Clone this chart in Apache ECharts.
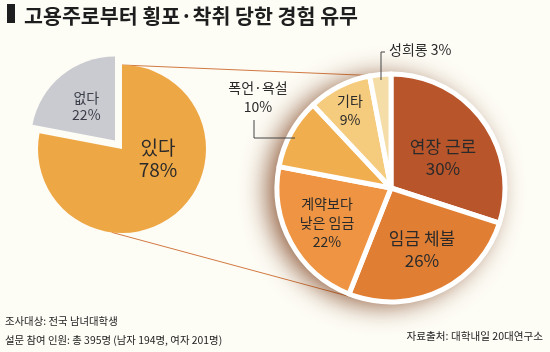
<!DOCTYPE html>
<html>
<head>
<meta charset="utf-8">
<script src="https://cdn.jsdelivr.net/npm/echarts@6/dist/echarts.min.js"></script>
<style>
html, body { margin: 0; padding: 0; background: #fdfcf5; }
#main { width: 550px; height: 352px; }
</style>
</head>
<body>
<div id="main"></div>
<script>
// 경험 유무
var hasNames = ['있다', '없다'];
var hasValues = [78, 22];

// 횡포·착취 유형 (있다 78% 내 비율)
var typeNames = ['연장 근로', '임금 체불', '계약보다\n낮은 임금', '폭언·욕설', '기타', '성희롱'];
var typeValues = [30, 26, 22, 10, 9, 3];

var hasColors = ['#eea745', '#c9cbd1'];
var typeColors = ['#b9552a', '#e07f34', '#ee9442', '#f1ae4e', '#f5cb7e', '#f5dda8'];

// 파이 중심, 반지름
var L = { x: 122, y: 149, r: 84 };
var R = { x: 391, y: 188, r: 114 };

// 라벨 위치 (중심 기준)
var hasLabelPos = [[36, 10], [-39, -48]];
var typeLabelPos = [[52, -30], [31, 62], [-64, 35], [-133, -91], [-41, -78], [-2, -138]];
var hasFont = [19, 14];
var typeFont = [17, 17, 14, 14, 14, 14];

var FONT = 'Noto Sans CJK KR';

function polar(c, r, deg) {
	var a = deg * Math.PI / 180;
	return [c.x + r * Math.sin(a), c.y - r * Math.cos(a)];
}

var myChart = echarts.init(document.getElementById('main'));

var hasData = hasNames.map(function (n, i) {
	return {
		name: n,
		value: hasValues[i],
		selected: i === 1,
		itemStyle: { color: hasColors[i] },
		label: {
			fontSize: hasFont[i],
			lineHeight: hasFont[i] + 3,
			color: i === 1 ? '#3b3d48' : '#2a2a2a'
		}
	};
});

var typeData = typeNames.map(function (n, i) {
	return {
		name: n,
		value: typeValues[i],
		itemStyle: { color: typeColors[i] },
		label: {
			fontSize: typeFont[i],
			lineHeight: typeFont[i] + 5
		}
	};
});

var option = {
	backgroundColor: '#fdfcf5',
	animation: false,
	title: [{
		text: '고용주로부터 횡포·착취 당한 경험 유무',
		left: 19,
		top: 1,
		textStyle: { fontFamily: FONT, fontSize: 20.6, fontWeight: 'bold', color: '#1e1e1e' }
	}, {
		text: '조사대상: 전국 남녀대학생\n설문 참여 인원: 총 395명 (남자 194명, 여자 201명)',
		left: 0,
		top: 307,
		textStyle: { fontFamily: FONT, fontSize: 10.4, fontWeight: 'normal', color: '#222', lineHeight: 19 }
	}, {
		text: '자료출처: 대학내일 20대연구소',
		right: 2,
		top: 326,
		textStyle: { fontFamily: FONT, fontSize: 10.6, fontWeight: 'normal', color: '#222' }
	}],
	graphic: [
		// 제목 앞 막대
		{ type: 'rect', shape: { x: 7, y: 4, width: 8, height: 19 }, style: { fill: '#1e1e1e' } },
		// 연결선
		{ type: 'line', z: 0, shape: { x1: polar(L, L.r, 0)[0], y1: polar(L, L.r, 0)[1], x2: polar(R, 112, 357)[0], y2: polar(R, 112, 357)[1] }, style: { stroke: '#d27a42', lineWidth: 1 } },
		{ type: 'line', z: 0, shape: { x1: polar(L, L.r, 187)[0], y1: polar(L, L.r, 187)[1], x2: polar(R, 116, 200)[0], y2: polar(R, 116, 200)[1] }, style: { stroke: '#d27a42', lineWidth: 1 } },
		// 라벨 지시선
		{ type: 'polyline', z: 10, shape: { points: [[R.x - 137, R.y - 68], [R.x - 137, R.y - 50], [R.x - 96, R.y - 50]] }, style: { stroke: '#444', lineWidth: 1, fill: null } },
		{ type: 'polyline', z: 10, shape: { points: [[R.x - 6, R.y - 136], [R.x - 10, R.y - 136], [R.x - 10, R.y - 108]] }, style: { stroke: '#444', lineWidth: 1, fill: null } }
	],
	series: [{
		name: '경험 유무',
		type: 'pie',
		center: [L.x, L.y],
		radius: L.r,
		startAngle: 90,
		clockwise: true,
		selectedMode: 'single',
		selectedOffset: 11,
		avoidLabelOverlap: false,
		silent: true,
		z: 2,
		label: {
			position: 'inside',
			fontFamily: FONT,
			formatter: '{b}\n{c}%'
		},
		labelLine: { show: false },
		labelLayout: function (p) {
			var d = hasLabelPos[p.dataIndex];
			return { x: L.x + d[0], y: L.y + d[1], align: 'center', verticalAlign: 'middle' };
		},
		data: hasData
	}, {
		// 그림자 받침
		name: 'backdrop',
		type: 'pie',
		center: [R.x, R.y],
		radius: R.r,
		silent: true,
		z: 1,
		label: { show: false },
		labelLine: { show: false },
		itemStyle: {
			color: '#ffffff',
			shadowBlur: 26,
			shadowOffsetX: -9,
			shadowOffsetY: 3,
			shadowColor: 'rgba(115, 50, 12, 0.8)'
		},
		data: [{ name: '', value: 1 }]
	}, {
		name: '횡포·착취 유형',
		type: 'pie',
		center: [R.x, R.y],
		radius: R.r,
		startAngle: 90,
		clockwise: true,
		avoidLabelOverlap: false,
		silent: true,
		z: 3,
		itemStyle: { borderColor: '#ffffff', borderWidth: 5 },
		label: {
			position: 'inside',
			fontFamily: FONT,
			color: '#2a2a2a',
			formatter: function (p) {
				return p.dataIndex === 5 ? p.name + ' ' + p.value + '%' : p.name + '\n' + p.value + '%';
			}
		},
		labelLine: { show: false },
		labelLayout: function (p) {
			var d = typeLabelPos[p.dataIndex];
			return {
				x: R.x + d[0],
				y: R.y + d[1],
				align: p.dataIndex === 5 ? 'left' : 'center',
				verticalAlign: 'middle'
			};
		},
		data: typeData
	}]
};

myChart.setOption(option);
</script>
</body>
</html>
